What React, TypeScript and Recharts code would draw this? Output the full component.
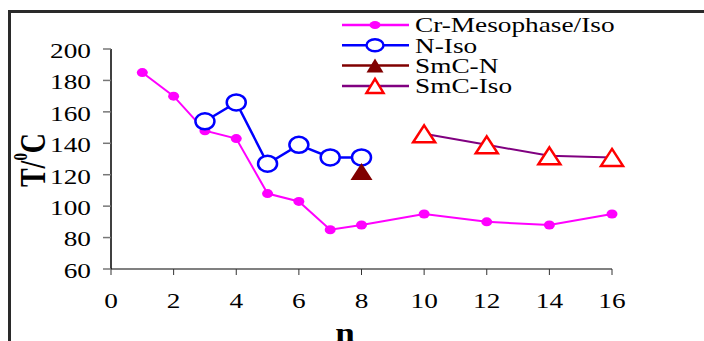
import React from "react";
import { LineChart, Line, XAxis, YAxis, Legend } from "recharts";

// n (chain length) and transition temperatures per series
const crN = [1, 2, 3, 4, 5, 6, 7, 8, 10, 12, 14, 16];
const crT = [185, 170, 148, 143, 108, 103, 85, 88, 95, 90, 88, 95];
const nIsoN = [3, 4, 5, 6, 7, 8];
const nIsoT = [154, 166, 127, 139, 131, 131];
const smcNN = [8];
const smcNT = [122];
const smcIsoN = [10, 12, 14, 16];
const smcIsoT = [146, 139, 132, 131];

const xTicks = [0, 2, 4, 6, 8, 10, 12, 14, 16];
const yTicks = [60, 80, 100, 120, 140, 160, 180, 200];

const seriesNames = ["Cr-Mesophase/Iso", "N-Iso", "SmC-N", "SmC-Iso"];

const toRows = (ns: number[], ts: number[]) => ns.map((n, i) => ({ n, t: ts[i] }));

const serif = "Liberation Serif, Times New Roman, DejaVu Serif, serif";
const sx = 1.3; // the original is stretched sideways

const MAGENTA = "#ff00ff";
const BLUE = "#0000ff";
const MAROON = "#800000";
const PURPLE = "#800080";
const RED = "#ff0000";

const txt = (size: number, bold = false) => ({
  fontFamily: serif,
  fontSize: size,
  fontWeight: bold ? 700 : 400,
});

const XTick = ({ x, y, payload }: any) => (
  <text
    transform={`translate(${x},${y}) scale(${sx},1)`}
    textAnchor="middle"
    dy="0.71em"
    style={txt(21)}
    fill="#000"
  >
    {payload.value}
  </text>
);

const YTick = ({ x, y, payload }: any) => (
  <text
    transform={`translate(${x},${y}) scale(${sx},1)`}
    textAnchor="end"
    dy="0.42em"
    style={txt(21)}
    fill="#000"
  >
    {payload.value}
  </text>
);

const triPoints = (cx: number, cy: number, w = 22, h = 17) =>
  `${cx},${cy - h / 2} ${cx + w / 2},${cy + h / 2} ${cx - w / 2},${cy + h / 2}`;

const crDot = (p: any) => (
  <ellipse key={p.key} cx={p.cx} cy={p.cy} rx={5.5} ry={4.5} fill={MAGENTA} />
);
const nDot = (p: any) => (
  <ellipse key={p.key} cx={p.cx} cy={p.cy} rx={9.5} ry={8} fill="#fff" stroke={BLUE} strokeWidth={2.5} />
);
const smcNDot = (p: any) => (
  <polygon key={p.key} points={triPoints(p.cx, p.cy)} fill={MAROON} />
);
const smcIsoDot = (p: any) => (
  <polygon key={p.key} points={triPoints(p.cx, p.cy)} fill="#fff" stroke={RED} strokeWidth={2.5} />
);

const renderLegend = () => {
  const rows = [
    { line: MAGENTA, mark: <ellipse cx={35} cy={0} rx={5.5} ry={4} fill={MAGENTA} /> },
    { line: BLUE, mark: <ellipse cx={35} cy={0} rx={8.5} ry={6} fill="#fff" stroke={BLUE} strokeWidth={2.5} /> },
    { line: MAROON, mark: <polygon points={triPoints(35, 0, 17, 14)} fill={MAROON} /> },
    { line: PURPLE, mark: <polygon points={triPoints(35, 0, 17, 14)} fill="#fff" stroke={RED} strokeWidth={2.5} /> },
  ];
  return (
    <svg width={320} height={90}>
      {rows.map((r, i) => (
        <g key={i} transform={`translate(0,${11 + i * 20.3})`}>
          <line x1={2} x2={69} y1={0} y2={0} stroke={r.line} strokeWidth={2.5} />
          {r.mark}
          <text transform={`translate(75,0) scale(${sx},1)`} dy="0.35em" style={txt(21)} fill="#000">
            {seriesNames[i]}
          </text>
        </g>
      ))}
    </svg>
  );
};

const YLabel = () => (
  <text
    transform={`translate(45,160) rotate(-90) scale(1,${sx})`}
    textAnchor="middle"
    style={txt(28, true)}
    fill="#000"
  >
    T/
    <tspan dy={-14} style={{ fontSize: 15 }}>0</tspan>
    <tspan dy={14}>C</tspan>
  </text>
);

const XLabel = () => (
  <text transform={`translate(345,342) scale(${sx},1)`} textAnchor="middle" style={txt(27, true)} fill="#000">
    n
  </text>
);

export default function App() {
  return (
    <div style={{ position: "absolute", left: 0, top: 0, width: 704, height: 341, background: "#fff", overflow: "hidden" }}>
      <div
        style={{
          position: "absolute",
          left: 8,
          top: 10,
          width: 700,
          height: 340,
          borderTop: "3px solid #2a2a2a",
          borderLeft: "3px solid #2a2a2a",
        }}
      />
      <div style={{ position: "absolute", left: 0, top: 0 }}>
        <LineChart width={704} height={341} margin={{ top: 49, right: 92, left: 0, bottom: 0 }}>
          <XAxis
            dataKey="n"
            type="number"
            domain={[0, 16]}
            ticks={xTicks}
            height={72}
            tickSize={6}
            tickMargin={18}
            tick={<XTick />}
            axisLine={{ stroke: "#808080", strokeWidth: 2 }}
            tickLine={{ stroke: "#333" }}
            allowDuplicatedCategory={false}
            label={<XLabel />}
          />
          <YAxis
            type="number"
            domain={[60, 200]}
            ticks={yTicks}
            width={111}
            tickSize={8}
            tickMargin={12}
            tick={<YTick />}
            axisLine={{ stroke: "#000", strokeWidth: 1.5 }}
            tickLine={{ stroke: "#777", strokeWidth: 1.5 }}
            label={<YLabel />}
          />
          <Legend
            layout="vertical"
            align="center"
            verticalAlign="middle"
            content={renderLegend}
            wrapperStyle={{ position: "absolute", left: 340, top: 14, width: 320, height: 90 }}
          />
          <Line
            data={toRows(crN, crT)}
            dataKey="t"
            name={seriesNames[0]}
            stroke={MAGENTA}
            strokeWidth={2}
            dot={crDot}
            isAnimationActive={false}
          />
          <Line
            data={toRows(nIsoN, nIsoT)}
            dataKey="t"
            name={seriesNames[1]}
            stroke={BLUE}
            strokeWidth={2.5}
            dot={nDot}
            isAnimationActive={false}
          />
          <Line
            data={toRows(smcNN, smcNT)}
            dataKey="t"
            name={seriesNames[2]}
            stroke={MAROON}
            strokeWidth={2}
            dot={smcNDot}
            isAnimationActive={false}
          />
          <Line
            data={toRows(smcIsoN, smcIsoT)}
            dataKey="t"
            name={seriesNames[3]}
            stroke={PURPLE}
            strokeWidth={2}
            dot={smcIsoDot}
            isAnimationActive={false}
          />
        </LineChart>
      </div>
    </div>
  );
}
